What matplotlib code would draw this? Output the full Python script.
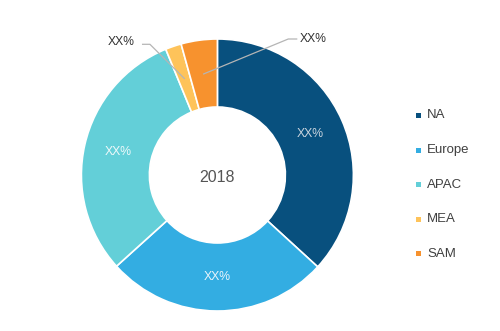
import numpy as np
import matplotlib
matplotlib.use("Agg")
import matplotlib.pyplot as plt
from matplotlib.patches import Rectangle

# Regional share, 2018
regions = ["NA", "Europe", "APAC", "MEA", "SAM"]
shares = [36.8, 26.5, 30.5, 1.9, 4.3]
labels = ["XX%", "XX%", "XX%", "XX%", "XX%"]
colors = ["#08507e", "#33ade2", "#63cfd8", "#fec35a", "#f7922e"]
center_label = "2018"

plt.rcParams["font.family"] = ["Liberation Sans", "DejaVu Sans"]

W, H = 500, 331
fig = plt.figure(figsize=(W / 100, H / 100), dpi=100)
fig.patch.set_facecolor("white")

cx, cy, R = 217.4, 175.0, 136.0
ax = fig.add_axes([(cx - R) / W, (H - cy - R) / H, 2 * R / W, 2 * R / H])
wedges, _ = ax.pie(shares, colors=colors, startangle=90, counterclock=False,
                   radius=1.0, wedgeprops=dict(width=0.5, edgecolor="white",
                                               linewidth=1.2))
ax.set_xlim(-1, 1)
ax.set_ylim(-1, 1)
ax.set_aspect("equal")
ax.axis("off")

mid_r = 0.75
inside_colors = ["#c9d4de", "#e8f4fb", "#eef9fa"]
# leader lines for the thin slices: (elbow, line end, text anchor, alignment)
outside = {3: ((-0.496, 0.961), (-0.55, 0.961), (-0.606, 0.98), "right"),
           4: ((0.521, 1.00), (0.583, 1.00), (0.607, 1.00), "left")}
for i, w in enumerate(wedges):
    ang = np.deg2rad((w.theta1 + w.theta2) / 2)
    x, y = mid_r * np.cos(ang), mid_r * np.sin(ang)
    if i in outside:
        elbow, end, tpos, ha = outside[i]
        ax.plot([x, elbow[0], end[0]], [y, elbow[1], end[1]],
                color="#b5b5b5", lw=0.9, clip_on=False, zorder=5)
        ax.text(tpos[0], tpos[1], labels[i], ha=ha, va="center",
                fontsize=8.7, color="#333333", clip_on=False)
    else:
        ax.text(x, y, labels[i], ha="center", va="center", fontsize=8.8,
                color=inside_colors[i])

ax.text(0, -0.02, center_label, ha="center", va="center", fontsize=11.5,
        color="#555555")

# Legend
leg_x, leg_y0, leg_dy = 416, 115.5, 34.6
for i, (name, col) in enumerate(zip(regions, colors)):
    yy = leg_y0 + i * leg_dy
    fig.add_artist(Rectangle((leg_x / W, 1 - (yy + 2.5) / H), 5 / W, 5 / H,
                             transform=fig.transFigure, facecolor=col,
                             edgecolor="none"))
    fig.text((leg_x + 11) / W, 1 - yy / H, name, ha="left", va="center",
             fontsize=9.5, color="#404040")

fig.savefig("out.png", dpi=100)
